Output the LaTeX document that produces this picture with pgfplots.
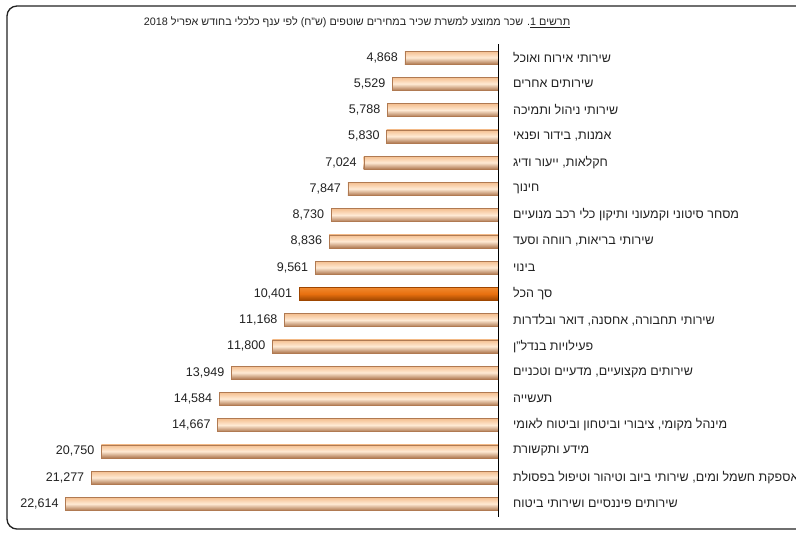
\documentclass[border=0pt]{standalone}
\usepackage{fontspec}
\setmainfont{Liberation Sans}[Script=Hebrew]
\usepackage{pgfplots}
\pgfplotsset{compat=1.18}
\TeXXeTstate=1
\definecolor{peachTop}{HTML}{F4BE8E}
\definecolor{peachMid}{HTML}{FFEAD4}
\definecolor{peachBot}{HTML}{B07A52}
\definecolor{orTop}{HTML}{F08A30}
\definecolor{orMid}{HTML}{E8700F}
\definecolor{orBot}{HTML}{9E4600}
\definecolor{txt}{HTML}{222222}
\pgfplotsset{
  peachbar/.style={bar shift=0pt, draw=peachBot, line width=0.3pt, top color=peachTop, bottom color=peachBot, middle color=peachMid},
  orbar/.style={bar shift=0pt, draw=orBot, line width=0.3pt, top color=orTop, bottom color=orBot, middle color=orMid},
}
\begin{document}
\fontsize{9.4}{11}\selectfont
\begin{tikzpicture}
\begin{axis}[
  scale only axis,
  width=358.5pt, height=354.4pt,
  xmin=0, xmax=25004,
  ymin=-0.5, ymax=17.5,
  x dir=reverse, y dir=reverse,
  xbar, bar width=9.75pt,
  axis line style={draw=none},
  xtick=\empty,
  ytick={0,...,17},
  ytick style={draw=none},
  yticklabel pos=right,
  yticklabel style={anchor=west, font=\fontsize{9.4}{11}\selectfont, text=txt, xshift=3.75pt},
  yticklabels={
    {\beginR שירותי אירוח ואוכל\endR},
    {\beginR שירותים אחרים\endR},
    {\beginR שירותי ניהול ותמיכה\endR},
    {\beginR אמנות, בידור ופנאי\endR},
    {\beginR חקלאות, ייעור ודיג\endR},
    {\beginR חינוך\endR},
    {\beginR מסחר סיטוני וקמעוני ותיקון כלי רכב מנועיים\endR},
    {\beginR שירותי בריאות, רווחה וסעד\endR},
    {\beginR בינוי\endR},
    {\beginR סך הכל\endR},
    {\beginR שירותי תחבורה, אחסנה, דואר ובלדרות\endR},
    {\beginR פעילויות בנדל"ן\endR},
    {\beginR שירותים מקצועיים, מדעיים וטכניים\endR},
    {\beginR תעשייה\endR},
    {\beginR מינהל מקומי, ציבורי וביטחון וביטוח לאומי\endR},
    {\beginR מידע ותקשורת\endR},
    {\beginR אספקת חשמל ומים, שירותי ביוב וטיהור וטיפול בפסולת\endR},
    {\beginR שירותים פיננסיים ושירותי ביטוח\endR}
  },
  nodes near coords,
  every node near coord/.append style={anchor=east, text=txt, font=\fontsize{9.4}{11}\selectfont, xshift=-2pt},
  /pgf/number format/.cd, fixed, precision=0, 1000 sep={,}, assume math mode=true,
  /pgfplots/.cd,
  clip=false,
]
\addplot[peachbar] coordinates {(4868,0)};
\addplot[peachbar] coordinates {(5529,1)};
\addplot[peachbar] coordinates {(5788,2)};
\addplot[peachbar] coordinates {(5830,3)};
\addplot[peachbar] coordinates {(7024,4)};
\addplot[peachbar] coordinates {(7847,5)};
\addplot[peachbar] coordinates {(8730,6)};
\addplot[peachbar] coordinates {(8836,7)};
\addplot[peachbar] coordinates {(9561,8)};
\addplot[orbar] coordinates {(10401,9)};
\addplot[peachbar] coordinates {(11168,10)};
\addplot[peachbar] coordinates {(11800,11)};
\addplot[peachbar] coordinates {(13949,12)};
\addplot[peachbar] coordinates {(14584,13)};
\addplot[peachbar] coordinates {(14667,14)};
\addplot[peachbar] coordinates {(20750,15)};
\addplot[peachbar] coordinates {(21277,16)};
\addplot[peachbar] coordinates {(22614,17)};
\draw[black, line width=0.75pt] (axis cs:0,-0.5) -- (axis cs:0,17.5);
\end{axis}
\draw[color=txt, line width=1pt, rounded corners=7.5pt] (-9.75pt,-9.1pt) rectangle (640pt,383.2pt);
\node[text=txt, font=\fontsize{8.1}{10}\selectfont] at (252.75pt,371.2pt) {\beginR\underline{\beginR תרשים 1\endR}. שכר ממוצע למשרת שכיר במחירים שוטפים (ש"ח) לפי ענף כלכלי בחודש אפריל  2018\endR};
\pgfresetboundingbox
\useasboundingbox (-15pt,-12.8pt) rectangle (582pt,387.7pt);
\end{tikzpicture}
\end{document}
